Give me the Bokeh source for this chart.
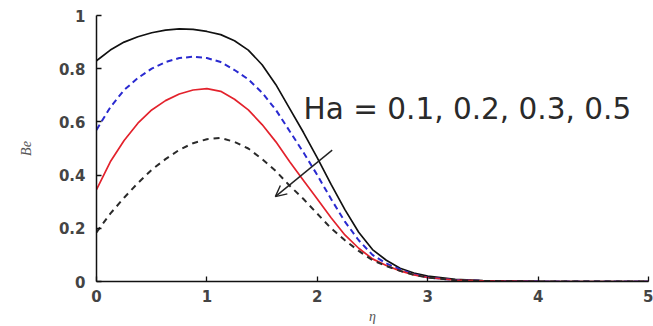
from bokeh.plotting import figure
from bokeh.models import Range1d, FixedTicker, Label, Arrow, OpenHead
from bokeh.embed import file_html
from bokeh.resources import INLINE

# similarity variable eta
eta = [0, 0.125, 0.25, 0.375, 0.5, 0.625, 0.75, 0.875, 1.0, 1.125, 1.25, 1.375,
       1.5, 1.625, 1.75, 1.875, 2.0, 2.125, 2.25, 2.375, 2.5, 2.625, 2.75, 2.875,
       3.0, 3.25, 3.5, 4.0, 4.5, 5.0]

# Bejan number profiles for Ha = 0.1, 0.2, 0.3, 0.5
be_ha01 = [0.83, 0.87, 0.90, 0.92, 0.935, 0.945, 0.95, 0.948, 0.94, 0.928, 0.905, 0.87,
           0.815, 0.74, 0.65, 0.56, 0.465, 0.365, 0.27, 0.185, 0.12, 0.08, 0.05, 0.032,
           0.02, 0.008, 0.003, 0.001, 0.0, 0.0]
be_ha02 = [0.57, 0.655, 0.72, 0.765, 0.80, 0.825, 0.84, 0.845, 0.84, 0.825, 0.795, 0.76,
           0.71, 0.645, 0.565, 0.485, 0.40, 0.31, 0.225, 0.155, 0.10, 0.068, 0.045, 0.027,
           0.015, 0.006, 0.002, 0.0005, 0.0, 0.0]
be_ha03 = [0.345, 0.45, 0.53, 0.595, 0.645, 0.68, 0.705, 0.72, 0.725, 0.715, 0.685, 0.645,
           0.59, 0.525, 0.45, 0.38, 0.31, 0.24, 0.175, 0.125, 0.085, 0.06, 0.04, 0.025,
           0.015, 0.005, 0.002, 0.0, 0.0, 0.0]
be_ha05 = [0.185, 0.255, 0.315, 0.37, 0.42, 0.46, 0.495, 0.52, 0.535, 0.54, 0.525, 0.50,
           0.46, 0.415, 0.36, 0.31, 0.255, 0.20, 0.155, 0.115, 0.08, 0.058, 0.04, 0.025,
           0.015, 0.005, 0.002, 0.0, 0.0, 0.0]

x_ticks = [0, 1, 2, 3, 4, 5]
y_ticks = [0, 0.2, 0.4, 0.6, 0.8, 1.0]
y_tick_labels = ["0", "0.2", "0.4", "0.6", "0.8", "1"]

annotation_text = "Ha = 0.1, 0.2, 0.3, 0.5"
annotation_pos = (1.875, 0.65)
arrow_start = (2.135, 0.494)
arrow_end = (1.62, 0.319)

p = figure(width=653, height=326, output_backend="svg", toolbar_location=None,
           x_range=Range1d(0, 5), y_range=Range1d(0, 1),
           min_border_left=96, min_border_right=5, min_border_top=15, min_border_bottom=44)
p.outline_line_color = None
p.xgrid.visible = False
p.ygrid.visible = False
p.background_fill_color = "white"

p.line(eta, be_ha01, line_color="#111111", line_width=1.7)
p.line(eta, be_ha02, line_color="#2a2ad0", line_width=2.0, line_dash="6 4")
p.line(eta, be_ha03, line_color="#e3222c", line_width=1.7)
p.line(eta, be_ha05, line_color="#2a2a2a", line_width=2.0, line_dash="6 5")

for ax in (p.xaxis[0], p.yaxis[0]):
    ax.axis_line_color = "#111111"
    ax.axis_line_width = 1.5
    ax.major_tick_line_color = "#111111"
    ax.major_tick_line_width = 1.3
    ax.major_tick_in = 5
    ax.major_tick_out = 0
    ax.minor_tick_line_color = None
    ax.major_label_text_font = "DejaVu Sans"
    ax.major_label_text_font_style = "bold"
    ax.major_label_text_font_size = "15px"
    ax.major_label_text_color = "#444444"
    ax.axis_label_text_font = "Liberation Serif"
    ax.axis_label_text_font_style = "italic"
    ax.axis_label_text_font_size = "14px"
    ax.axis_label_text_color = "#555555"

p.xaxis.ticker = FixedTicker(ticks=x_ticks)
p.yaxis.ticker = FixedTicker(ticks=y_ticks)
p.yaxis.major_label_overrides = {t: s for t, s in zip(y_ticks, y_tick_labels)}
p.xaxis.major_label_standoff = 8
p.yaxis.major_label_standoff = 11
p.xaxis.axis_label = "η"
p.yaxis.axis_label = "Be"
p.xaxis.axis_label_standoff = 4
p.yaxis.axis_label_standoff = 22

p.add_layout(Arrow(end=OpenHead(size=11, line_width=1.4, line_color="#222222"),
                   x_start=arrow_start[0], y_start=arrow_start[1],
                   x_end=arrow_end[0], y_end=arrow_end[1],
                   line_width=1.4, line_color="#222222"))

p.add_layout(Label(x=annotation_pos[0], y=annotation_pos[1], text=annotation_text,
                   text_font="DejaVu Sans", text_font_size="29.5px",
                   text_color="#2a2a2a", text_baseline="alphabetic", text_align="left"))

open("out.html", "w").write(file_html(p, INLINE))
